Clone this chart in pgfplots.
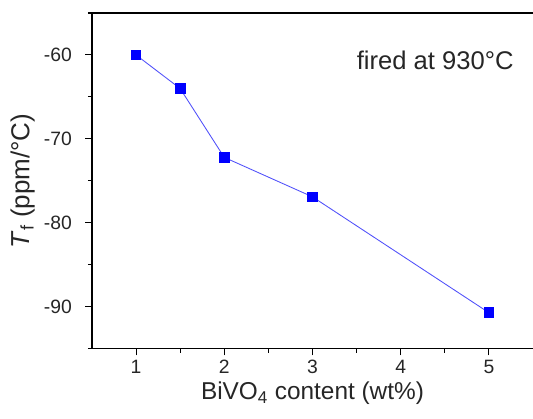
\documentclass[border=0pt]{standalone}
\usepackage{fontspec}
\setmainfont{Liberation Sans}
\usepackage{pgfplots}
\pgfplotsset{compat=1.18}

\definecolor{ptblue}{RGB}{0,0,255}
\definecolor{lnblue}{RGB}{80,80,250}

\begin{document}
\begin{tikzpicture}
\begin{axis}[
    scale only axis,
    width=331pt, height=252pt,
    xmin=0.5, xmax=5.5,
    ymin=-95, ymax=-55,
    axis x line*=box, axis y line*=left,
    xtick={1,2,3,4,5}, minor xtick={1.5,2.5,3.5,4.5},
    ytick={-90,-80,-70,-60}, minor ytick={-95,-85,-75,-65,-55},
    xtick pos=bottom, ytick pos=left,
    tick align=outside,
    major tick length=5pt, minor tick length=3pt,
    tick style={black, line width=0.8pt},
    axis line style={black, line width=1pt},
    /pgf/number format/assume math mode=true,
    tick label style={font=\fontsize{14.5pt}{16pt}\selectfont, text=black!85},
    y tick label style={xshift=-6.5pt},
    xlabel={BiVO\textsubscript{4} content (wt\%)},
    ylabel={\textit{T}\textsubscript{f} (ppm/°C)},
    xlabel style={font=\fontsize{18.3pt}{22pt}\selectfont, text=black!85, yshift=1pt},
    ylabel style={font=\fontsize{19.5pt}{22pt}\selectfont, text=black!85, yshift=0pt},
    clip=false,
]
\addplot[lnblue, line width=0.65pt, mark=square*, mark size=3.6pt,
    mark options={ptblue, solid, draw=ptblue, fill=ptblue}] coordinates {
    (1,   -60.0)
    (1.5, -64.0)
    (2,   -72.2)
    (3,   -76.9)
    (5,   -90.7)
};
\node[anchor=west, font=\fontsize{19.2pt}{21pt}\selectfont, text=black!85]
    at (axis cs:3.45,-60.6) {fired at 930°C};
\end{axis}
\pgfresetboundingbox
\path (current axis.south west) ++(-69pt,-52.5pt) coordinate (bbA);
\path (current axis.north east) ++(0pt,9.75pt) coordinate (bbB);
\useasboundingbox (bbA) rectangle (bbB);
\end{tikzpicture}
\end{document}
